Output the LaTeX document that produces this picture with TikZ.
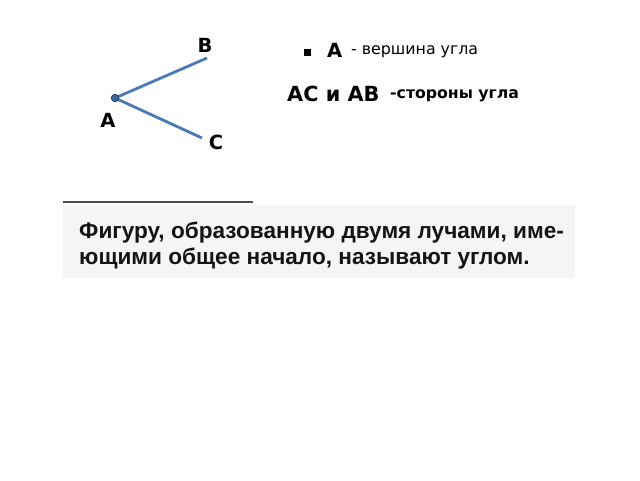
\documentclass[tikz,border=0pt]{standalone}
\usepackage{fontspec}
\setmainfont{DejaVu Sans}
\newfontfamily\scanfont{Liberation Sans}
\begin{document}
\begin{tikzpicture}[x=1pt,y=-1pt,
  lbl/.style={font=\bfseries\fontsize{19.5}{22}\selectfont, inner sep=0pt},
  ray/.style={draw=rayblue, line width=2.8pt},
  scantext/.style={font=\scanfont\bfseries\fontsize{22.6}{28}\selectfont, text=black!92, inner sep=0pt, anchor=base west}]
\definecolor{rayblue}{RGB}{74,122,181}
\useasboundingbox (0,0) rectangle (640,480);
\fill[white] (0,0) rectangle (640,480);
% angle
\coordinate (vA) at (115,98);
\coordinate (vB) at (207,58);
\coordinate (vC) at (202,138);
\draw[ray] (vB) -- (vA) -- (vC);
\node[circle, fill=rayblue!85!black, draw=rayblue!45!black, line width=0.7pt, minimum size=7.5pt, inner sep=0pt] (dot) at (vA) {};
\node[lbl] (lB) at (205,45) {B};
\node[lbl] (lA) at (108,120) {A};
\node[lbl] (lC) at (216,142) {C};
% legend
\node[fill=black, minimum size=6.5pt, inner sep=0pt] (sq) at (307.5,52.5) {};
\node[lbl, anchor=west] (la2) at (327,50) {A};
\node[anchor=west, inner sep=0pt, font=\fontsize{15.8}{18}\selectfont] (vert) at (351,52) {- вершина угла};
\node[lbl, anchor=west, font=\bfseries\fontsize{20.8}{24}\selectfont] (acab) at (287,93.5) {AC и AB};
\node[anchor=west, inner sep=0pt, font=\bfseries\fontsize{15.7}{18}\selectfont] (sides) at (390,96) {-стороны угла};
% scanned definition
\fill[black!4] (63,205) rectangle (575,278);
\draw[black!70, line width=1.3pt] (63,202) -- (253,202);
\node[scantext] (t1) at (79,238) {Фигуру, образованную двумя лучами, име-};
\node[scantext] (t2) at (79,264) {ющими общее начало, называют углом.};
\end{tikzpicture}
\end{document}
